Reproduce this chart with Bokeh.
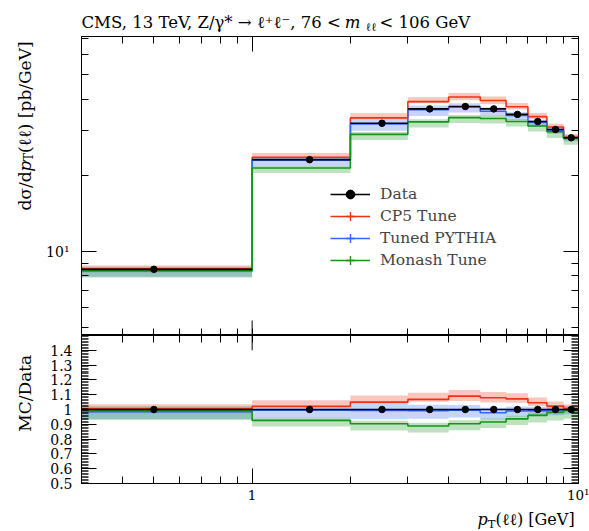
import math
import os
import glob
from bokeh.plotting import figure
from bokeh.models import (FixedTicker, Label, Legend, LegendItem, LogAxis, LinearAxis,
                          Range1d, CustomJSTickFormatter)
from bokeh.layouts import column, row
from bokeh.embed import file_html
from bokeh.resources import INLINE

# ---------------- data ----------------
bin_edges = [0, 1, 2, 3, 4, 5, 6, 7, 8, 9, 10]
bin_centres = [0.5, 1.5, 2.5, 3.5, 4.5, 5.5, 6.5, 7.5, 8.5, 9.5]

data_vals = [8.50, 23.1, 32.2, 36.7, 37.5, 36.7, 34.9, 32.7, 30.4, 28.2]
data_errs = [0.08, 0.18, 0.22, 0.25, 0.25, 0.25, 0.24, 0.23, 0.22, 0.21]

cp5_vals = [8.54, 23.6, 33.8, 39.2, 40.9, 39.6, 37.4, 34.2, 31.1, 28.4]
cp5_up = [0.030, 0.040, 0.043, 0.042, 0.038, 0.037, 0.035, 0.033, 0.030, 0.028]
cp5_dn = [0.030, 0.012, 0.012, 0.015, 0.030, 0.030, 0.025, 0.022, 0.020, 0.020]

tuned_vals = [8.37, 23.0, 32.0, 36.4, 37.35, 35.9, 34.55, 32.4, 30.2, 28.15]
tuned_up = [0.030, 0.025, 0.045, 0.040, 0.035, 0.035, 0.030, 0.028, 0.025, 0.025]
tuned_dn = [0.050, 0.055, 0.060, 0.055, 0.050, 0.045, 0.040, 0.035, 0.032, 0.030]

monash_vals = [8.44, 21.4, 29.1, 32.6, 33.9, 33.6, 32.7, 31.4, 29.8, 28.0]
monash_up = [0.030, 0.020, 0.022, 0.025, 0.025, 0.025, 0.022, 0.020, 0.020, 0.020]
monash_dn = [0.065, 0.045, 0.050, 0.050, 0.048, 0.045, 0.045, 0.050, 0.055, 0.055]

series_labels = ["CP5 Tune", "Tuned PYTHIA", "Monash Tune"]
data_label = "Data"

x_major_ticks = [1, 10]
x_minor_ticks = [0.4, 0.5, 0.6, 0.7, 0.8, 0.9, 2, 3, 4, 5, 6, 7, 8, 9]
y_major_ticks = [10]
y_minor_ticks = [5, 6, 7, 8, 9, 20, 30, 40, 50, 60, 70]
r_major_ticks = [0.5, 0.6, 0.7, 0.8, 0.9, 1.0, 1.1, 1.2, 1.3, 1.4]

# ---------------- style / geometry ----------------
FONT = "DejaVu Serif"
RED, BLUE, GREEN = "#EE3311", "#3366FF", "#109618"
COLORS = [RED, BLUE, GREEN]
X_MIN, X_MAX = 0.3, 10.0
Y_MIN, Y_MAX = 4.65, 71.0
R_MIN, R_MAX = 0.5, 1.5
r_minor_ticks = [round(R_MIN + 0.01 * i, 2) for i in range(101)]

W = 589
LEFT_W = 40          # strip holding the rotated y labels
FRAME_L = 81         # frame left edge (page px)
FRAME_R_PAD = 11
TITLE_H = 33
TOP_FRAME_H = 299
TOP_PAD = 3
RATIO_FRAME_H = 150
RATIO_BOTTOM = 20
XLAB_H = 24
MAJOR_LEN, MINOR_LEN = 15, 7

_fonts = {}


def _find_font(name):
    for d in ["/usr/share/fonts", "/usr/local/share/fonts", os.path.expanduser("~/.fonts")]:
        hits = glob.glob(os.path.join(d, "**", name), recursive=True)
        if hits:
            return hits[0]
    return None


def _load(italic):
    from PIL import ImageFont
    if italic in _fonts:
        return _fonts[italic]
    path = None
    if italic:
        path = _find_font("DejaVuSerif-Italic.ttf")
    if path is None:
        path = _find_font("DejaVuSerif.ttf")
    _fonts[italic] = ImageFont.truetype(path, 100) if path else None
    return _fonts[italic]


def measure(txt, size, italic=False):
    try:
        f = _load(italic)
        if f is not None:
            return f.getlength(txt) * size / 100.0
    except Exception:
        pass
    return 0.6 * size * len(txt)


def text_fig(w, h):
    f = figure(width=w, height=h, x_range=Range1d(0, w), y_range=Range1d(0, h),
               title=None, toolbar_location=None, output_backend="svg",
               x_axis_location=None, y_axis_location=None,
               min_border=0, min_border_left=0, min_border_right=0,
               min_border_top=0, min_border_bottom=0)
    f.grid.visible = False
    f.outline_line_color = None
    return f


def add_run(fig, pieces, x, y, align="left", vertical=False):
    """Place a run of text pieces (text, size_px, italic, drop_px[, anchor_end]) in pixel coords."""
    widths = [measure(p[0], p[1], p[2]) for p in pieces]
    total = sum(widths)
    if align == "left":
        start = 0
    elif align == "right":
        start = -total
    else:
        start = -total / 2
    cum = start
    for p, w in zip(pieces, widths):
        t, s, it, d = p[:4]
        anchor_end = len(p) > 4 and p[4]
        kw = dict(text=t, text_font=FONT, text_font_size=f"{s}px",
                  text_font_style="italic" if it else "normal", text_color="black",
                  text_align="right" if anchor_end else "left", text_baseline="alphabetic")
        pos = cum + w if anchor_end else cum
        if vertical:
            lab = Label(x=x + d, y=y + pos, angle=math.pi / 2, **kw)
        else:
            lab = Label(x=x + pos, y=y - d, **kw)
        fig.add_layout(lab)
        cum += w


def style_axis(ax, ticks, minor, formatter=None, label_size="14px", show=True,
               minor_width=1.0):
    ax.ticker = FixedTicker(ticks=ticks, minor_ticks=minor)
    ax.major_tick_in = MAJOR_LEN
    ax.major_tick_out = 0
    ax.minor_tick_in = MINOR_LEN
    ax.minor_tick_out = 0
    ax.axis_line_color = "black"
    ax.major_tick_line_color = "black"
    ax.minor_tick_line_color = "black"
    ax.minor_tick_line_width = minor_width
    if show:
        ax.major_label_text_font = FONT
        ax.major_label_text_font_size = label_size
        ax.major_label_text_color = "black"
        if formatter is not None:
            ax.formatter = formatter
    else:
        ax.major_label_text_font_size = "1px"
        ax.major_label_text_alpha = 0
        ax.major_label_standoff = 0


lefts = [max(e, X_MIN) for e in bin_edges[:-1]]
rights = bin_edges[1:]
step_x = lefts + [bin_edges[-1]]

mc_sets = [(cp5_vals, cp5_up, cp5_dn), (tuned_vals, tuned_up, tuned_dn),
           (monash_vals, monash_up, monash_dn)]

# ---------------- main panel ----------------
x_range = Range1d(X_MIN, X_MAX)
p1 = figure(width=W - LEFT_W, height=TOP_PAD + TOP_FRAME_H, x_axis_type="log", y_axis_type="log",
            x_range=x_range, y_range=Range1d(Y_MIN, Y_MAX), title=None,
            output_backend="svg", toolbar_location=None,
            min_border_left=FRAME_L - LEFT_W, min_border_right=FRAME_R_PAD,
            min_border_top=TOP_PAD, min_border_bottom=0)
p1.grid.visible = False
p1.outline_line_color = "black"
p1.add_layout(LogAxis(), "above")
p1.add_layout(LogAxis(), "right")
# bottom edge (shared with the ratio panel): minor ticks only, so it takes no space
style_axis(p1.below[0], [], x_major_ticks + x_minor_ticks, show=False)
style_axis(p1.above[0], x_major_ticks, x_minor_ticks, show=False)
p1.yaxis[0].major_label_standoff = 12
style_axis(p1.yaxis[0], y_major_ticks, y_minor_ticks,
           formatter=CustomJSTickFormatter(code='return Math.abs(tick-10)<1e-6 ? "10\u00b9" : "";'))
style_axis(p1.right[0], y_major_ticks, y_minor_ticks, show=False)
# long major ticks on the shared edge
p1.segment(x0=x_major_ticks, x1=x_major_ticks, y0=[Y_MIN] * len(x_major_ticks),
           y1=[Y_MIN * (Y_MAX / Y_MIN) ** (MAJOR_LEN / TOP_FRAME_H)] * len(x_major_ticks),
           line_color="black", line_width=1)

for (vals, up, dn), col in zip(mc_sets, COLORS):
    p1.quad(left=lefts, right=rights,
            bottom=[v * (1 - d) for v, d in zip(vals, dn)],
            top=[v * (1 + u) for v, u in zip(vals, up)],
            fill_color=col, fill_alpha=0.28, line_color=None)

step_renderers = []
for (vals, up, dn), col in zip(mc_sets, COLORS):
    r = p1.step(x=step_x, y=vals + [vals[-1]], mode="after", line_color=col, line_width=1.6)
    step_renderers.append(r)

data_h = p1.segment(x0=lefts, x1=rights, y0=data_vals, y1=data_vals,
                    line_color="black", line_width=1.6)
p1.segment(x0=bin_centres, x1=bin_centres,
           y0=[v - e for v, e in zip(data_vals, data_errs)],
           y1=[v + e for v, e in zip(data_vals, data_errs)],
           line_color="black", line_width=1.6)
data_pts = p1.scatter(x=bin_centres, y=data_vals, size=6.5, marker="circle",
                      fill_color="black", line_color="black")

# legend helper glyphs (vertical ticks drawn only in the legend)
cross_r = {}
for col in ["black"] + COLORS:
    cross_r[col] = p1.scatter(x=[bin_centres[0]], y=[data_vals[0]], marker="cross", size=13,
                              line_color=col, line_width=1.4, visible=False)

items = [LegendItem(label=data_label, renderers=[data_h, cross_r["black"], data_pts])]
for lab, r, col in zip(series_labels, step_renderers, COLORS):
    items.append(LegendItem(label=lab, renderers=[r, cross_r[col]]))

legend = Legend(items=items, location=(249, 64), border_line_color=None,
                background_fill_alpha=0, padding=0, margin=0, spacing=0,
                glyph_width=40, glyph_height=22, label_height=22, label_standoff=10,
                label_text_font=FONT, label_text_font_size="15.5px",
                label_text_baseline="middle")
p1.add_layout(legend)

# ---------------- ratio panel ----------------
p2 = figure(width=W - LEFT_W, height=RATIO_FRAME_H + RATIO_BOTTOM, x_axis_type="log",
            x_range=x_range, y_range=Range1d(R_MIN, R_MAX), title=None,
            output_backend="svg", toolbar_location=None,
            min_border_left=FRAME_L - LEFT_W, min_border_right=FRAME_R_PAD,
            min_border_top=0, min_border_bottom=RATIO_BOTTOM)
p2.grid.visible = False
p2.outline_line_color = "black"
p2.add_layout(LogAxis(), "above")
p2.add_layout(LinearAxis(), "right")
p2.below[0].major_label_standoff = 3
style_axis(p2.below[0], x_major_ticks, x_minor_ticks, label_size="13.5px",
           formatter=CustomJSTickFormatter(
               code='if (Math.abs(tick-1)<1e-6) return "1"; if (Math.abs(tick-10)<1e-6) return "10\u00b9"; return "";'))
style_axis(p2.above[0], [], x_major_ticks + x_minor_ticks, show=False)
p2.yaxis[0].major_label_standoff = 9
style_axis(p2.yaxis[0], r_major_ticks, r_minor_ticks, minor_width=0.7,
           formatter=CustomJSTickFormatter(code='return Math.abs(tick-1)<1e-6 ? "1" : tick.toFixed(1);'))
style_axis(p2.right[0], r_major_ticks, r_minor_ticks, show=False, minor_width=0.7)
p2.segment(x0=x_major_ticks, x1=x_major_ticks, y0=[R_MAX] * len(x_major_ticks),
           y1=[R_MAX - (R_MAX - R_MIN) * MAJOR_LEN / RATIO_FRAME_H] * len(x_major_ticks),
           line_color="black", line_width=1)

for (vals, up, dn), col in zip(mc_sets, COLORS):
    p2.quad(left=lefts, right=rights,
            bottom=[v * (1 - d) / dv for v, d, dv in zip(vals, dn, data_vals)],
            top=[v * (1 + u) / dv for v, u, dv in zip(vals, up, data_vals)],
            fill_color=col, fill_alpha=0.28, line_color=None)
for (vals, up, dn), col in zip(mc_sets, COLORS):
    ratio = [v / dv for v, dv in zip(vals, data_vals)]
    p2.step(x=step_x, y=ratio + [ratio[-1]], mode="after", line_color=col, line_width=1.6)

ones = [dv / dv for dv in data_vals]
p2.segment(x0=lefts, x1=rights, y0=ones, y1=ones, line_color="black", line_width=1.6)
p2.segment(x0=bin_centres, x1=bin_centres,
           y0=[1 - e / dv for e, dv in zip(data_errs, data_vals)],
           y1=[1 + e / dv for e, dv in zip(data_errs, data_vals)],
           line_color="black", line_width=1.6)
p2.scatter(x=bin_centres, y=ones, size=6.5, marker="circle", fill_color="black", line_color="black")

# ---------------- text strips ----------------
title_fig = text_fig(W, TITLE_H)
add_run(title_fig, [("CMS, 13 TeV, Z/\u03b3* \u2192 \u2113\u207a\u2113\u207b, 76 <", 16.5, False, 0),
                    (" m", 16.5, True, 0, True),
                    ("\u2113\u2113", 11.5, False, 4),
                    (" < 106 GeV", 16.5, False, 0)],
        FRAME_L, TITLE_H - 22, align="left")

ylab_fig = text_fig(LEFT_W, TOP_PAD + TOP_FRAME_H)
add_run(ylab_fig, [("d\u03c3/d", 17, False, 0), ("p", 17, True, 0), ("T", 12, False, 4),
                   ("(\u2113\u2113) [pb/GeV]", 17, False, 0)],
        24, TOP_PAD + TOP_FRAME_H - 2, align="right", vertical=True)

rlab_fig = text_fig(LEFT_W, RATIO_FRAME_H + RATIO_BOTTOM)
add_run(rlab_fig, [("MC/Data", 17, False, 0)],
        24, RATIO_FRAME_H + RATIO_BOTTOM - 72, align="center", vertical=True)

xlab_fig = text_fig(W, XLAB_H)
add_run(xlab_fig, [("p", 16, True, 0), ("T", 11.5, False, 4),
                   ("(\u2113\u2113) [GeV]", 16, False, 0)],
        W - FRAME_R_PAD, 10, align="right")

layout = column(title_fig, row(ylab_fig, p1, spacing=0), row(rlab_fig, p2, spacing=0),
                xlab_fig, spacing=0)
open("out.html", "w").write(file_html(layout, INLINE))
